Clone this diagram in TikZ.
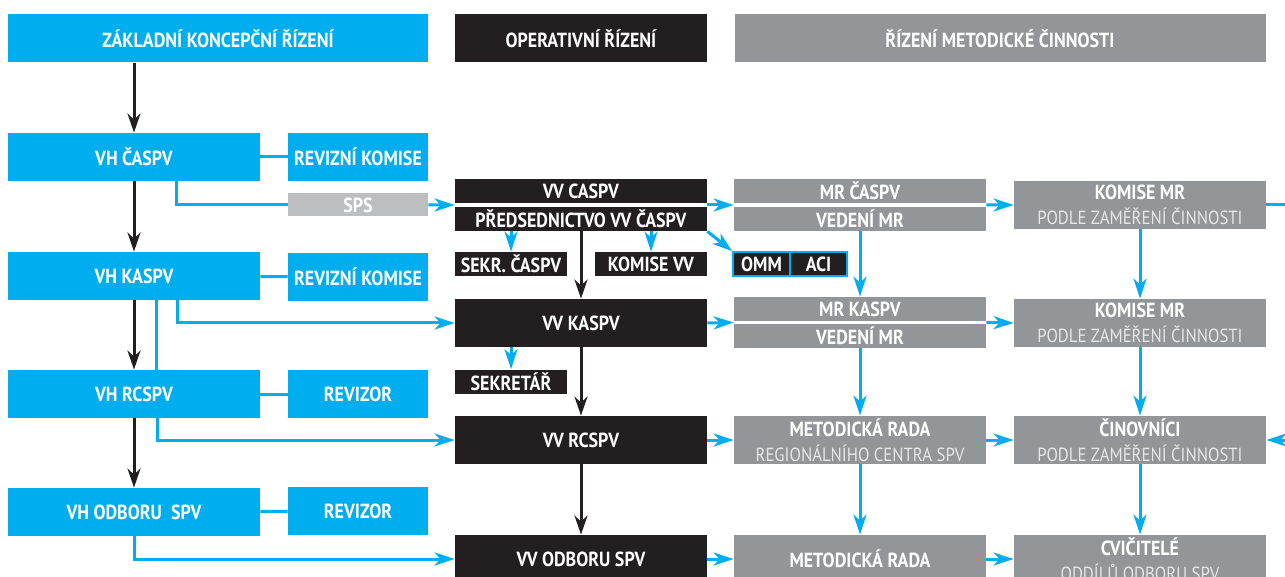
\documentclass[tikz,border=0pt]{standalone}
\usepackage{fontspec}
\setmainfont{PT Sans}[FakeStretch=0.88]
\usepackage{xcolor}
\usepackage{tikz}
\usetikzlibrary{arrows.meta}
\usetikzlibrary{calc}
\definecolor{cpblue}{HTML}{00AEEF}
\definecolor{cpblack}{HTML}{231F20}
\definecolor{cpgray}{HTML}{939598}
\definecolor{cplgray}{HTML}{BCBEC0}
\definecolor{cpsub}{HTML}{E6E7E8}
\newcommand{\sublt}{\mdseries\fontsize{9.5}{12.5}\selectfont\color{cpsub}}
\tikzset{
  hbox/.style={inner sep=0pt, minimum width=126pt, minimum height=24pt, text=white, align=center,
    font=\bfseries\fontsize{10.2}{12.5}\selectfont},
  blu/.style={hbox, fill=cpblue},
  blk/.style={hbox, fill=cpblack},
  gry/.style={hbox, fill=cpgray},
  halfbox/.style={minimum height=12pt},
  sidebox/.style={minimum width=70pt},
  smallbox/.style={minimum width=56pt, minimum height=12pt},
  tinybox/.style={minimum width=28.5pt, minimum height=12pt, draw=cpblue, line width=.8pt},
  spsbox/.style={hbox, fill=cplgray, minimum width=70pt, minimum height=11.5pt},
  bln/.style={draw=cpblue, line width=1.5pt},
  barr/.style={bln, -{Stealth[length=10pt, width=6.5pt, inset=3pt]}},
  karr/.style={draw=cpblack, line width=1.5pt, -{Stealth[length=9.5pt, width=6.5pt, inset=3pt]}}
}

\begin{document}
\begin{tikzpicture}[x=.5pt,y=-.5pt]
\useasboundingbox (0,0) rectangle (1285,577);
\clip (0,0) rectangle (1285,577);
\node[blu, minimum width=210pt] (hdz) at (218,38.5) {ZÁKLADNÍ KONCEPČNÍ ŘÍZENÍ};
\node[blk] (hdo) at (581,38.5) {OPERATIVNÍ ŘÍZENÍ};
\node[gry, minimum width=265.5pt] (hdm) at (1000,38.5) {ŘÍZENÍ METODICKÉ ČINNOSTI};

\node[blu] (vhc) at (134,157) {VH ČASPV};
\node[blu] (vhk) at (134,276) {VH KASPV};
\node[blu] (vhr) at (134,394) {VH RCSPV};
\node[blu] (vho) at (134,512) {VH ODBORU\ \ SPV};
\foreach \n/\y/\t in {rk1/157/REVIZNÍ KOMISE,rk2/277/REVIZNÍ KOMISE,rv1/394/REVIZOR,rv2/511/REVIZOR}
  \node[blu, sidebox] (\n) at (358,\y) {\t};
\node[spsbox] (sps) at (358,205) {SPS};

\node[blk, halfbox] (vvc) at (581,191) {VV CASPV};
\node[blk, halfbox] (pvv) at (581,219) {PŘEDSEDNICTVO VV ČASPV};
\node[blk, smallbox] (sekc) at (511,264) {SEKR. ČASPV};
\node[blk, smallbox] (kvv) at (651,264) {KOMISE VV};
\node[blk, tinybox] (omm) at (761.5,264) {OMM};
\node[blk, tinybox] (aci) at (818.5,264) {ACI};
\node[blk] (vvk) at (581,323) {VV KASPV};
\node[blk, smallbox] (sekr) at (511,381.5) {SEKRETÁŘ};
\node[blk] (vvr) at (581,440) {VV RCSPV};
\node[blk] (vvo) at (581,559) {VV ODBORU SPV};

\node[gry, halfbox] (mrc) at (860,191) {MR ČASPV};
\node[gry, halfbox] (vmc) at (860,219) {VEDENÍ MR};
\node[gry, halfbox] (mrk) at (860,309) {MR KASPV};
\node[gry, halfbox] (vmk) at (860,336) {VEDENÍ MR};
\node[gry] (mdr) at (860,440) {METODICKÁ RADA\\{\sublt REGIONÁLNÍHO CENTRA SPV}};
\node[gry] (mdo) at (860,559) {METODICKÁ RADA};

\node[gry] (kmc) at (1140,205) {KOMISE MR\\{\sublt PODLE ZAMĚŘENÍ ČINNOSTI}};
\node[gry] (kmk) at (1140,323) {KOMISE MR\\{\sublt PODLE ZAMĚŘENÍ ČINNOSTI}};
\node[gry] (cin) at (1140,440) {ČINOVNÍCI\\{\sublt PODLE ZAMĚŘENÍ ČINNOSTI}};
\node[gry] (cvi) at (1140,559) {CVIČITELÉ\\{\sublt ODDÍLŮ ODBORU SPV}};

\draw[karr] (hdz.south -| vhc) -- (vhc);
\foreach \a/\b in {vhc/vhk,vhk/vhr,vhr/vho,pvv/vvk,vvk/vvr,vvr/vvo} \draw[karr] (\a) -- (\b);
\foreach \a/\b in {vhc/rk1,vhk/rk2,vhr/rv1,vho/rv2} \draw[bln] (\a) -- (\b);

\draw[bln] ([xshift=21pt]vhc.south) |- (sps);
\draw[barr] (sps) -- ($(vvc.south west)!.5!(pvv.north west)$);
\draw[barr] ([xshift=21.5pt]vhk.south) |- (vvk);
\draw[bln] ([xshift=11pt]vhk.south) -- ([xshift=11pt]vhr.north);
\draw[barr] ([xshift=11.5pt]vhr.south) |- (vvr);
\draw[barr] (vho) |- (vvo);

\draw[barr] (sekc |- pvv.south) -- (sekc);
\draw[barr] (kvv |- pvv.south) -- (kvv);
\draw[barr] (sekr |- vvk.south) -- (sekr);
\draw[barr] (pvv.south east) -- (omm.north west);

\draw[barr] ($(vvc.south east)!.5!(pvv.north east)$) -- ($(mrc.south west)!.5!(vmc.north west)$);
\draw[barr] ($(mrc.south east)!.5!(vmc.north east)$) -- (kmc);
\draw[barr] (vvk.east) -- ($(mrk.south west)!.5!(vmk.north west)$);
\draw[barr] ($(mrk.south east)!.5!(vmk.north east)$) -- (kmk.west);
\foreach \a/\b in {vvr/mdr,mdr/cin,vvo/mdo,mdo/cvi} \draw[barr] (\a) -- (\b);
\foreach \a/\b in {vmc/mrk,vmk/mdr,mdr/mdo,kmc/kmk,kmk/cin,cin/cvi} \draw[barr] (\a) -- (\b);
\draw[barr] (kmc.east) -- ++(40,0) |- (cin.east);
\end{tikzpicture}
\end{document}
